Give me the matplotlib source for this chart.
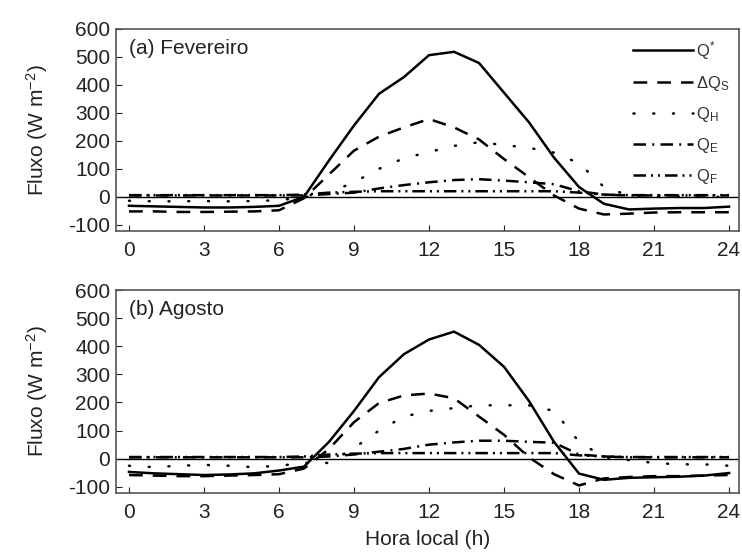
import numpy as np
import matplotlib.pyplot as plt

plt.rcParams['font.family'] = ['Liberation Sans', 'DejaVu Sans']
plt.rcParams['mathtext.default'] = 'regular'
plt.rcParams['axes.unicode_minus'] = False

# Hora local (h)
horas = np.arange(0, 25)

# (a) Fevereiro
fev_qstar = [-32, -34, -36, -38, -38, -36, -32, 0, 130, 255, 368, 428, 506, 518, 478, 372, 266, 140, 35, -25, -45, -42, -40, -40, -35]
fev_dqs = [-52, -52, -54, -54, -53, -52, -48, -5, 80, 165, 215, 248, 278, 248, 205, 135, 70, 5, -42, -63, -60, -56, -55, -55, -55]
fev_qh = [-14, -16, -16, -15, -16, -15, -12, -2, 15, 52, 100, 138, 160, 182, 195, 185, 175, 158, 120, 35, 5, 0, 0, 0, 0]
fev_qe = [5, 5, 5, 5, 5, 5, 5, 5, 10, 15, 30, 42, 52, 60, 63, 58, 52, 45, 20, 8, 5, 5, 5, 5, 5]
fev_qf = [6, 6, 6, 6, 6, 6, 6, 8, 15, 18, 20, 20, 20, 20, 20, 20, 20, 20, 15, 8, 6, 6, 6, 6, 6]

# (b) Agosto
ago_qstar = [-47, -52, -55, -58, -56, -52, -42, -28, 60, 170, 290, 372, 424, 452, 405, 327, 205, 60, -53, -75, -68, -66, -64, -60, -51]
ago_dqs = [-58, -60, -62, -62, -60, -58, -55, -35, 35, 130, 198, 225, 232, 215, 150, 85, 5, -55, -95, -70, -65, -62, -62, -60, -58]
ago_qh = [-25, -30, -25, -22, -25, -30, -25, -15, -15, 38, 100, 150, 170, 180, 190, 190, 190, 170, 60, 5, -5, -15, -20, -20, -25]
ago_qe = [5, 5, 5, 5, 5, 5, 5, 5, 8, 15, 25, 35, 50, 58, 64, 64, 60, 57, 15, 8, 5, 5, 5, 5, 5]
ago_qf = [6, 6, 6, 6, 6, 6, 6, 8, 15, 18, 20, 20, 20, 20, 20, 20, 20, 20, 12, 8, 6, 6, 6, 6, 6]

rotulos = ['Q$^{*}$', '$\\Delta$Q$_{S}$', 'Q$_{H}$', 'Q$_{E}$', 'Q$_{F}$']
estilos = [(None, None), (0, (5.5, 4)), (0, (0.4, 7.5)), (0, (5, 2.5, 0.8, 2.5)), (0, (5, 2, 0.8, 2, 0.8, 2))]

fig = plt.figure(figsize=(7.42, 5.6), dpi=100)
ax1 = fig.add_axes([0.156, 0.5875, 0.84, 0.361])
ax2 = fig.add_axes([0.156, 0.1196, 0.84, 0.3625])

def painel(ax, series, titulo):
    ax.axhline(0, color='k', lw=1.0, zorder=1)
    for y, lab, ls in zip(series, rotulos, estilos):
        if ls[0] is None:
            ax.plot(horas, y, color='k', lw=1.8, ls='-', label=lab)
        else:
            ax.plot(horas, y, color='k', lw=1.8, ls=ls, label=lab,
                    dash_capstyle='round' if lab == 'Q$_{H}$' else 'butt')
    ax.set_xlim(-0.53, 24.4)
    ax.set_ylim(-122, 600)
    ax.set_xticks(range(0, 25, 3))
    ax.set_yticks(range(-100, 601, 100))
    ax.tick_params(direction='in', length=4, labelsize=15, colors='#222222')
    ax.tick_params(axis='x', pad=7)
    ax.tick_params(axis='y', pad=4)
    for s in ax.spines.values():
        s.set_color('#555555')
        s.set_linewidth(1.2)
    ax.text(0.022, 0.905, titulo, transform=ax.transAxes, fontsize=15,
            va='center', ha='left', color='#222222')
    ax.set_ylabel('Fluxo (W m$^{-2}$)', fontsize=15, color='#222222', labelpad=13)

painel(ax1, [fev_qstar, fev_dqs, fev_qh, fev_qe, fev_qf], '(a) Fevereiro')
painel(ax2, [ago_qstar, ago_dqs, ago_qh, ago_qe, ago_qf], '(b) Agosto')

ax1.legend(loc='upper right', frameon=False, fontsize=12, handlelength=3.6,
           handletextpad=0.15, labelspacing=0.72, borderaxespad=0.2,
           labelcolor='#333333')
ax2.set_xlabel('Hora local (h)', fontsize=15, color='#222222', labelpad=6)

fig.savefig('out.png', dpi=100)
